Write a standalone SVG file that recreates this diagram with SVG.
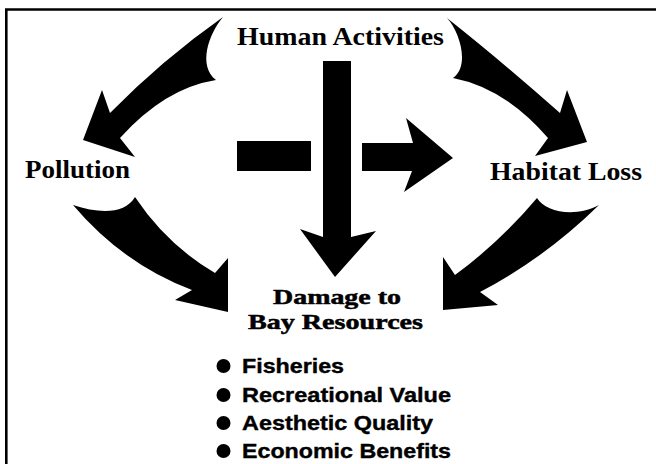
<svg xmlns="http://www.w3.org/2000/svg" width="656" height="464" viewBox="0 0 656 464">
<style>
.lbl{font-family:"Liberation Serif","Times New Roman",serif;font-weight:bold;font-size:26px;fill:#000;text-anchor:middle}
.lbl2{font-size:22px;stroke:#000;stroke-width:0.5}
.item{font-family:"Liberation Sans",Arial,sans-serif;font-weight:bold;font-size:21px;fill:#000;stroke:#000;stroke-width:0.4}
.arr{fill:#000;stroke:none}
.frame{stroke:#000;stroke-width:2.6;fill:none}
</style>
<rect width="656" height="464" fill="#fff"/>
<path class="frame" d="M6.3,464 V9.5 H656"/>
<g id="connectors">
  <path class="arr" d="M223,17 C208,35 198,66 216,80 Q165,88 120,138 L135,157 L83,140 L102,90 L110,113 Q162,60 223,17 Z"/>
  <path class="arr" d="M447,18 C460,32 470,66 453,78 Q505,88 548,138 L535,156 L587,142 L567,90 L560,113 Q500,60 447,18 Z"/>
  <path class="arr" d="M73,205 C100,214 125,214 135,197 Q167,245 215,273 L228,258 L228,312 L175,300 L192,290 Q123,264 73,205 Z"/>
  <path class="arr" d="M537,198 C545,212 575,218 599,205 Q545,258 480,292 L498,305 L443,310 L443,257 L455,275 Q500,242 537,198 Z"/>
  <path class="arr" d="M323,61 H351 V237 L376,231 L335,277 L300,229 L323,237 Z"/>
  <rect class="arr" x="237" y="141" width="74" height="30"/>
  <path class="arr" d="M362,143 H413 L406,118 L453,158 L404,192 L412,171 H362 Z"/>
</g>
<g id="human-activities"><text class="lbl" x="340.5" y="45" textLength="207" lengthAdjust="spacingAndGlyphs">Human Activities</text></g>
<g id="pollution"><text class="lbl" x="77.5" y="178" textLength="105" lengthAdjust="spacingAndGlyphs">Pollution</text></g>
<g id="habitat-loss"><text class="lbl" x="566" y="180" textLength="152" lengthAdjust="spacingAndGlyphs">Habitat Loss</text></g>
<g id="damage">
  <text class="lbl lbl2" x="337" y="304" textLength="128" lengthAdjust="spacingAndGlyphs">Damage to</text>
  <text class="lbl lbl2" x="335.5" y="329" textLength="175" lengthAdjust="spacingAndGlyphs">Bay Resources</text>
  <circle cx="223.5" cy="366" r="7"/>
  <circle cx="223.5" cy="395" r="7"/>
  <circle cx="223.5" cy="423" r="7"/>
  <circle cx="223.5" cy="451" r="7"/>
  <text class="item" x="242" y="373" textLength="102" lengthAdjust="spacingAndGlyphs">Fisheries</text>
  <text class="item" x="242" y="402" textLength="209" lengthAdjust="spacingAndGlyphs">Recreational Value</text>
  <text class="item" x="242" y="430" textLength="191" lengthAdjust="spacingAndGlyphs">Aesthetic Quality</text>
  <text class="item" x="242" y="458" textLength="209" lengthAdjust="spacingAndGlyphs">Economic Benefits</text>
</g>
</svg>
